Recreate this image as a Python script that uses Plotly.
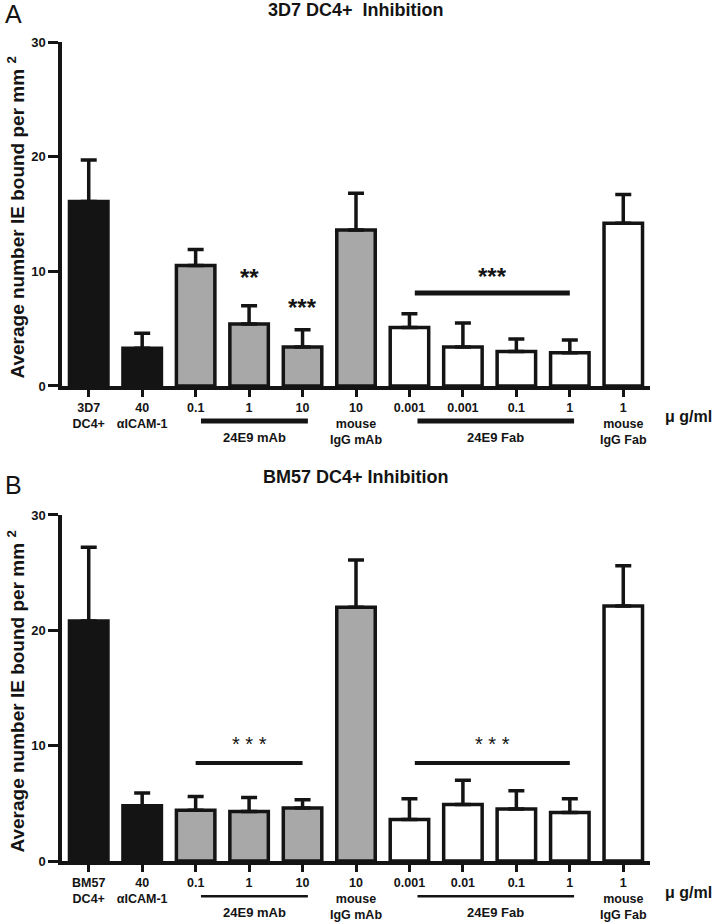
import plotly.graph_objects as go

# panel A: 3D7 DC4+
a_labels = ["3D7<br>DC4+", "40<br>αICAM-1", "0.1", "1", "10", "10<br>mouse<br>IgG mAb",
            "0.001", "0.001", "0.1", "1", "1<br>mouse<br>IgG Fab"]
a_mean = [16.1, 3.3, 10.5, 5.4, 3.4, 13.6, 5.1, 3.4, 3.0, 2.9, 14.2]
a_sd = [3.6, 1.3, 1.4, 1.6, 1.5, 3.2, 1.2, 2.1, 1.1, 1.1, 2.5]

# panel B: BM57 DC4+
b_labels = ["BM57<br>DC4+", "40<br>αICAM-1", "0.1", "1", "10", "10<br>mouse<br>IgG mAb",
            "0.001", "0.01", "0.1", "1", "1<br>mouse<br>IgG Fab"]
b_mean = [20.8, 4.8, 4.4, 4.3, 4.6, 22.0, 3.6, 4.9, 4.5, 4.2, 22.1]
b_sd = [6.4, 1.1, 1.2, 1.2, 0.7, 4.1, 1.8, 2.1, 1.6, 1.2, 3.5]

kind = ["ctrl", "ctrl", "mab", "mab", "mab", "mab", "fab", "fab", "fab", "fab", "fab"]
fill = {"ctrl": "#141414", "mab": "#a8a8a8", "fab": "#ffffff"}

FONT = "Liberation Sans"
INK = "#141414"
xpos = list(range(len(kind)))

fig = go.Figure()

panels = [
    ("", "y", a_labels, a_mean, a_sd),
    ("2", "y2", b_labels, b_mean, b_sd),
]
for sfx, yref, labels, mean, sd in panels:
    fig.add_trace(go.Bar(
        x=xpos, y=mean, width=0.72,
        xaxis="x" + sfx, yaxis=yref,
        marker=dict(color=[fill[k] for k in kind], line=dict(color=INK, width=3.5)),
        error_y=dict(type="data", symmetric=False, array=sd, arrayminus=[0] * len(sd),
                     color=INK, thickness=3.5, width=8),
        showlegend=False,
    ))

axis_common = dict(
    showline=True, linewidth=3.5, linecolor=INK, ticks="outside",
    tickwidth=3, tickcolor=INK, showgrid=False, zeroline=False,
)
xfont = dict(family=FONT, size=12.5, color=INK, weight="bold")
yfont = dict(family=FONT, size=13, color=INK, weight="bold")

fig.update_layout(
    width=714, height=923,
    margin=dict(l=62, r=64, t=42, b=62),
    plot_bgcolor="white", paper_bgcolor="white",
    xaxis=dict(domain=[0, 1], anchor="y", range=[-0.5, 10.5], tickvals=xpos,
               ticktext=a_labels, ticklen=7, tickfont=xfont, automargin=False, **axis_common),
    yaxis=dict(domain=[0.58, 1], anchor="x", range=[0, 30], tickvals=[0, 10, 20, 30],
               ticklen=10, tickfont=yfont, automargin=False, **axis_common),
    xaxis2=dict(domain=[0, 1], anchor="y2", range=[-0.5, 10.5], tickvals=xpos,
                ticktext=b_labels, ticklen=7, tickfont=xfont, automargin=False, **axis_common),
    yaxis2=dict(domain=[0, 0.4225], anchor="x2", range=[0, 30], tickvals=[0, 10, 20, 30],
                ticklen=10, tickfont=yfont, automargin=False, **axis_common),
)

ann = []
shp = []

# significance marks: (panel, x0, x1, bar y, star x, star y, text)
sig = [
    ("", None, None, None, 3, 10.0, "**"),
    ("", None, None, None, 4, 7.4, "***"),
    ("", 6.1, 9.0, 8.1, 7.55, 10.1, "***"),
    ("2", 2.0, 4.0, 8.5, 3, 10.7, "* * *"),
    ("2", 6.1, 9.0, 8.5, 7.55, 10.7, "* * *"),
]
for sfx, x0, x1, yb, xs, ys, txt in sig:
    yr = "y" + sfx
    if x0 is not None:
        shp.append(dict(type="line", xref="x" + sfx, yref=yr, x0=x0, x1=x1, y0=yb, y1=yb,
                        line=dict(color=INK, width=5 if sfx == "" else 4)))
    ann.append(dict(xref="x" + sfx, yref=yr, x=xs, y=ys, text=txt, showarrow=False,
                    yshift=-6,
                    font=dict(family=FONT, size=24 if sfx == "" else 20, color=INK,
                              weight="bold" if sfx == "" else "normal")))

# group brackets below the x axis
groups = [(2.1, 4.1, "24E9 mAb"), (6.15, 9.08, "24E9 Fab")]
for sfx in ["", "2"]:
    yd = ("y" + sfx) + " domain"
    for x0, x1, name in groups:
        shp.append(dict(type="line", xref="x" + sfx, yref=yd, x0=x0, x1=x1, y0=-0.102, y1=-0.102,
                        line=dict(color=INK, width=5 if sfx == "" else 2.5)))
        ann.append(dict(xref="x" + sfx, yref=yd, x=(x0 + x1) / 2, y=-0.15, text=name,
                        showarrow=False, yanchor="middle",
                        font=dict(family=FONT, size=13, color=INK, weight="bold")))
    ann.append(dict(xref="paper", yref=yd, x=1.0655, y=-0.09, text="μ g/ml", showarrow=False,
                    xanchor="center", yanchor="middle",
                    font=dict(family=FONT, size=16, color=INK, weight="bold")))
    ann.append(dict(xref="paper", yref=yd, x=-0.078, y=0.49, textangle=-90,
                    xanchor="center", yanchor="middle",
                    text="Average number IE bound per mm <sup>2</sup>", showarrow=False,
                    font=dict(family=FONT, size=19, color=INK, weight="bold")))

# titles and panel letters
ann += [
    dict(xref="paper", yref="y domain", x=0.5, y=1.0, yshift=32, yanchor="middle",
         text="3D7 DC4+  Inhibition", showarrow=False,
         font=dict(family=FONT, size=18, color=INK, weight="bold")),
    dict(xref="paper", yref="y2 domain", x=0.5, y=1.0, yshift=38, yanchor="middle",
         text="BM57 DC4+ Inhibition", showarrow=False,
         font=dict(family=FONT, size=18, color=INK, weight="bold")),
    dict(xref="paper", yref="y domain", x=-0.1003, y=1.0, yshift=28, xanchor="left",
         yanchor="middle", text="A", showarrow=False, font=dict(family=FONT, size=25, color=INK)),
    dict(xref="paper", yref="y2 domain", x=-0.1003, y=1.0, yshift=30, xanchor="left",
         yanchor="middle", text="B", showarrow=False, font=dict(family=FONT, size=25, color=INK)),
]

fig.update_layout(annotations=ann, shapes=shp)
fig.write_html("out.html", config={"displayModeBar": False},
               post_script="document.body.style.margin = '0';")
